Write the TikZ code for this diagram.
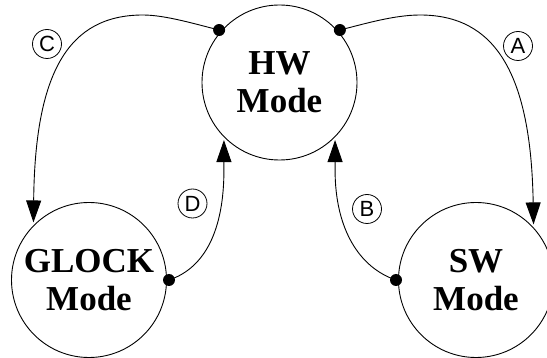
\documentclass[tikz,border=0pt]{standalone}
\usepackage{fontspec}
\setmainfont{Liberation Serif}
\newfontfamily\labelfont{Liberation Sans}
\usetikzlibrary{arrows.meta}
\begin{document}
\begin{tikzpicture}[x=1pt,y=-1pt,
  mode/.style={circle,draw,line width=0.9pt,minimum size=155pt,inner sep=0pt,
    outer sep=2.5pt,align=center,font=\fontsize{35}{38}\selectfont\bfseries},
  conn/.style={line width=0.9pt},
  flow/.style={conn,-{Triangle[length=22pt,width=15pt]}},
  tag/.style={circle,draw,line width=0.8pt,minimum size=29pt,inner sep=0pt,
    font=\fontsize{22}{22}\selectfont\labelfont},
  dotmark/.style={circle,fill,inner sep=0pt,minimum size=12pt}]
\useasboundingbox (0,0) rectangle (547,358);

% the three modes
\node[mode] (HW) at (279.5,82.5) {HW\\Mode};
\node[mode] (GL) at (89,280) {GLOCK\\Mode};
\node[mode] (SW) at (476,280) {SW\\Mode};

% C: HW -> GLOCK
\draw[flow] (HW.139) .. controls (195,24) and (165,15) .. (143,15)
  .. controls (68,15) and (35,73) .. (GL.134);
% A: HW -> SW
\draw[flow] (HW.41) .. controls (364,24) and (394,15) .. (420,15)
  .. controls (495,15) and (531,73) .. (SW.44);
% D: GLOCK -> HW
\coordinate (d1) at (HW.226 |- 0,170);
\draw[flow] (GL.0) .. controls (205,268) and (d1 |- 0,230) .. (d1) -- (HW.226);
% B: SW -> HW
\coordinate (b1) at (HW.314 |- 0,170);
\draw[flow] (SW.180) .. controls (360,268) and (b1 |- 0,230) .. (b1) -- (HW.314);

% source dots
\node[dotmark] at (HW.139) {};
\node[dotmark] at (HW.41) {};
\node[dotmark] at (GL.0) {};
\node[dotmark] at (SW.180) {};

% transition labels
\node[tag] (tC) at (47,44) {C};
\node[tag] (tA) at (518,46) {A};
\node[tag] (tD) at (192.5,203.5) {D};
\node[tag] (tB) at (367,209) {B};
\end{tikzpicture}
\end{document}
